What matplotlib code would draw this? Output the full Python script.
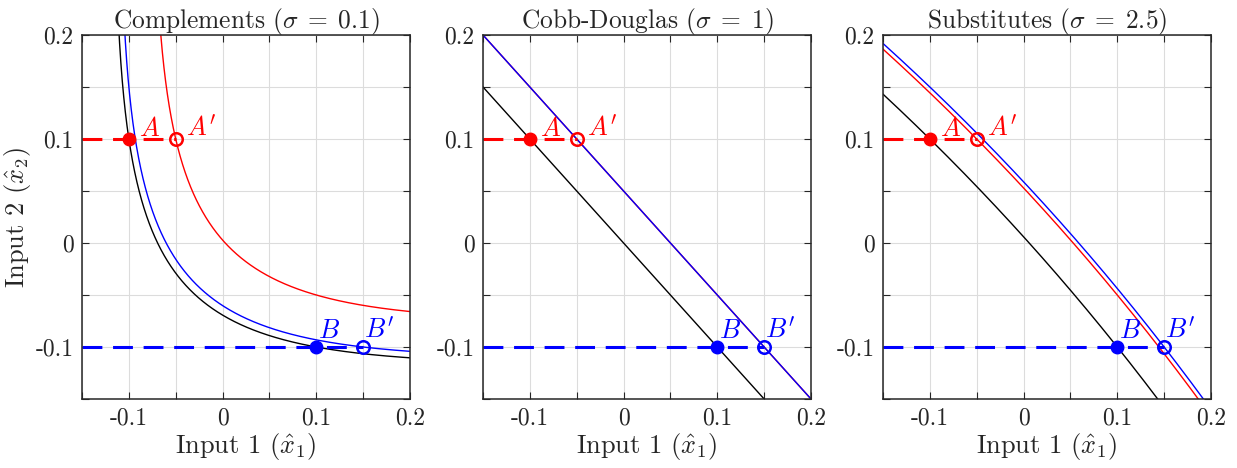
import numpy as np
import matplotlib
matplotlib.use("Agg")
import matplotlib.pyplot as plt

plt.rcParams['font.family'] = 'serif'
plt.rcParams['font.serif'] = ['cmr10']
plt.rcParams['mathtext.fontset'] = 'cm'
plt.rcParams['axes.unicode_minus'] = False
plt.rcParams['axes.formatter.use_mathtext'] = True

# panel data
titles = [r'Complements ($\sigma\;=\;0.1$)', r'Cobb-Douglas ($\sigma\;=\;1$)',
          r'Substitutes ($\sigma\;=\;2.5$)']
sigmas = [0.1, 1.0, 2.5]

# points (x1, x2)
point_A = (-0.1, 0.1)
point_A2 = (-0.05, 0.1)
point_B = (0.1, -0.1)
point_B2 = (0.15, -0.1)

xlim = (-0.15, 0.2)
ylim = (-0.15, 0.2)
ticks = [-0.1, 0, 0.1, 0.2]
tick_labels = ['-0.1', '0', '0.1', '0.2']
minor = [-0.15, -0.1, -0.05, 0, 0.05, 0.1, 0.15, 0.2]


def isoquant(sigma, p, x1):
    # CES isoquant (equal weights) through point p, in log deviations
    if sigma == 1:
        return p[0] + p[1] - x1
    rho = (sigma - 1) / sigma
    level = np.exp(rho * p[0]) + np.exp(rho * p[1])
    rest = level - np.exp(rho * x1)
    out = np.full_like(x1, np.nan)
    ok = rest > 0
    out[ok] = np.log(rest[ok]) / rho
    return out


x1 = np.linspace(-0.15, 0.2, 4000)

fig = plt.figure(figsize=(12.37, 4.68), dpi=100)
lefts = [82, 483, 883]
axes = []
for i, left in enumerate(lefts):
    ax = fig.add_axes([left / 1237, 69 / 468, 328 / 1237, 364 / 468])
    axes.append(ax)
    s = sigmas[i]
    ax.plot(x1, isoquant(s, point_A, x1), color='k', lw=1.0)
    ax.plot(x1, isoquant(s, point_A2, x1), color='r', lw=1.0)
    ax.plot(x1, isoquant(s, point_B2, x1), color='b', lw=1.0)

    ax.plot([xlim[0], point_A2[0]], [point_A[1], point_A2[1]], color='r',
            lw=2.2, dashes=(6.5, 3.5))
    ax.plot([xlim[0], point_B2[0]], [point_B[1], point_B2[1]], color='b',
            lw=2.2, dashes=(6.5, 3.5))
    ax.plot(*point_A, 'o', color='r', ms=9)
    ax.plot(*point_A2, 'o', color='r', ms=9, mfc='none', mew=1.8)
    ax.plot(*point_B, 'o', color='b', ms=9)
    ax.plot(*point_B2, 'o', color='b', ms=9, mfc='none', mew=1.8)

    ax.text(point_A[0] + 0.011, point_A[1] + 0.003, r'$A$', color='r', fontsize=19)
    ax.text(point_A2[0] + 0.011, point_A2[1] + 0.003, r"$A'$", color='r', fontsize=19)
    ax.text(point_B[0] + 0.002, point_B[1] + 0.009, r'$B$', color='b', fontsize=19)
    ax.text(point_B2[0] + 0.001, point_B2[1] + 0.009, r"$B'$", color='b', fontsize=19)

    ax.set_xlim(xlim)
    ax.set_ylim(ylim)
    ax.set_xticks(minor)
    ax.set_xticklabels(['' if t not in ticks else tick_labels[ticks.index(t)] for t in minor])
    ax.set_yticks(minor)
    ax.set_yticklabels(['' if t not in ticks else tick_labels[ticks.index(t)] for t in minor])
    ax.tick_params(direction='in', top=True, right=True, length=5, width=0.8,
                   colors='#262626', labelsize=17, labelcolor='#262626', pad=6)
    ax.grid(True, color='#dcdcdc', lw=0.8)
    ax.set_axisbelow(True)
    for sp in ax.spines.values():
        sp.set_color('#262626')
        sp.set_linewidth(1.1)
    ax.set_title(titles[i], fontsize=18.3, color='#262626', pad=5)
    ax.set_xlabel(r'Input 1 ($\hat{x}_1$)', fontsize=19, color='#262626', labelpad=1)

axes[0].set_ylabel(r'Input 2 ($\hat{x}_2$)', fontsize=19, color='#262626', labelpad=2)

fig.savefig('out.png', dpi=100)
